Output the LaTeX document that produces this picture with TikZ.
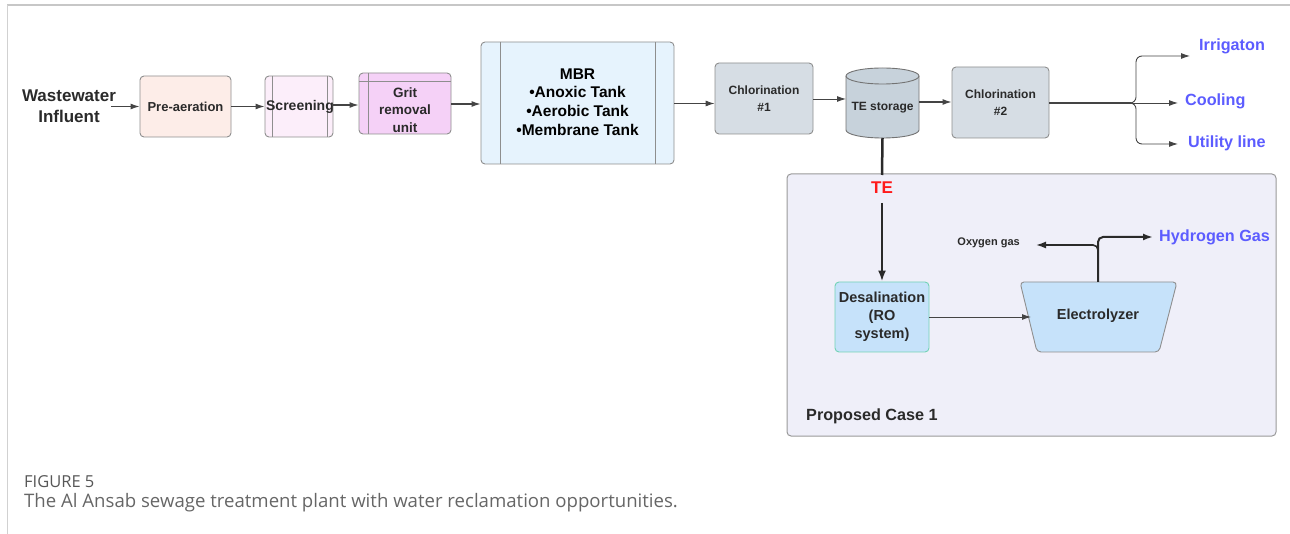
\documentclass[tikz,border=0pt]{standalone}
\usepackage{fontspec}
\setmainfont{Liberation Sans}
\newfontfamily\capfont{Open Sans}
\usetikzlibrary{arrows.meta}
\definecolor{preF}{HTML}{FDEDE8}
\definecolor{scrF}{HTML}{FCEEFA}
\definecolor{gritF}{HTML}{F5D1F7}
\definecolor{mbrF}{HTML}{E6F3FD}
\definecolor{chlF}{HTML}{D6DDE4}
\definecolor{teF}{HTML}{C7D2DB}
\definecolor{propF}{HTML}{EFEFF9}
\definecolor{desF}{HTML}{C6E2FA}
\definecolor{desB}{HTML}{72D3B5}
\definecolor{bordC}{HTML}{8E8E8E}
\definecolor{lineC}{HTML}{444444}
\definecolor{blueL}{HTML}{5C5CFF}
\definecolor{redL}{HTML}{FF1A1A}
\definecolor{capC}{HTML}{666666}
\definecolor{txtC}{HTML}{2A2A2A}
\tikzset{
  box/.style={draw=bordC, line width=0.9pt, rounded corners=4pt, align=center, text=txtC, font=\bfseries\fontsize{13}{16.5}\selectfont, inner sep=0pt},
  flow/.style={draw=lineC, line width=1.1pt, -{Latex[length=9pt,width=6pt]}},
  thinflow/.style={draw=lineC, line width=0.9pt, -{Latex[length=9pt,width=6pt]}},
  outlet/.style={draw=txtC, line width=2pt, rounded corners=5pt},
  bluelab/.style={text=blueL, font=\bfseries\fontsize{16.2}{19}\selectfont, anchor=west, inner sep=0pt},
  inner/.style={draw=bordC, line width=0.9pt}
}
\begin{document}
\begin{tikzpicture}[x=1pt,y=-1pt]
\useasboundingbox (0,0) rectangle (1290,534);
% frame
\draw[draw=black!22, line width=1.5pt] (7,5) -- (1290,5);
\draw[draw=black!18, line width=1pt] (7,5) -- (7,534);

% proposed case box
\draw[draw=black!40, fill=propF, line width=1pt, rounded corners=4pt] (787,174) rectangle (1276,436);
\node[anchor=west, text=txtC, font=\bfseries\fontsize{16.2}{19}\selectfont, inner sep=0pt] (pc) at (806,416) {Proposed Case 1};

% influent
\node[align=center, text=txtC, font=\bfseries\fontsize{17}{21}\selectfont, inner sep=0pt] (inf) at (69,106.5) {Wastewater\\Influent};

\node[box, fill=preF, minimum width=91pt, minimum height=61pt] (pre) at (185.5,106.5) {Pre-aeration};
\node[box, fill=scrF, minimum width=68pt, minimum height=61pt] (scr) at (299,106.5) {};
\draw[inner] (272,76) -- (272,137);
\draw[inner] (327,76) -- (327,137);
\node[text=txtC, font=\bfseries\fontsize{14}{16}\selectfont, inner sep=0pt] (scrt) at (300,106.5) {Screening};

\node[box, fill=gritF, minimum width=92pt, minimum height=61pt] (grit) at (405,103.5) {};
\draw[inner] (359,81) -- (451,81);
\draw[inner] (368,73) -- (368,134);
\node[align=center, text=txtC, font=\bfseries\fontsize{13.5}{17.5}\selectfont, inner sep=0pt] (gritt) at (405,110) {Grit\\removal\\unit};

\node[box, fill=mbrF, minimum width=193pt, minimum height=122pt] (mbr) at (577.5,103) {};
\draw[inner] (500,42) -- (500,164);
\draw[inner] (655,42) -- (655,164);
\node[align=center, text=black, font=\bfseries\fontsize{15.5}{18.7}\selectfont, inner sep=0pt] (mbrt) at (577.5,102) {MBR\\•Anoxic Tank\\•Aerobic Tank\\•Membrane Tank};

\node[box, fill=chlF, minimum width=98pt, minimum height=71pt, font=\bfseries\fontsize{12}{17}\selectfont] (c1) at (764,98.5) {Chlorination\\\#1};

% TE storage cylinder
\draw[draw=black!55, fill=teF, line width=0.9pt] (846,76) -- (846,130) arc[start angle=180, end angle=360, x radius=36.5pt, y radius=8pt] -- (919,76) arc[start angle=0, end angle=180, x radius=36.5pt, y radius=8pt] -- cycle;
\draw[draw=black!55, line width=0.9pt] (846,76) arc[start angle=180, end angle=360, x radius=36.5pt, y radius=8pt];
\node[minimum width=73pt, minimum height=70pt, inner sep=0pt, text=txtC, font=\bfseries\fontsize{12}{14}\selectfont] (te) at (882.5,108) {TE storage};
\coordinate (teb) at (882.5,138);

\node[box, fill=chlF, minimum width=97pt, minimum height=71pt, font=\bfseries\fontsize{12}{17}\selectfont] (c2) at (1000.5,102.5) {Chlorination\\\#2};

% main line arrows
\draw[flow] (inf.east |- pre.west) ++(-5,0) coordinate (infout) -- (pre.west);
\draw[flow] (pre.east) -- (scr.west);
\draw[flow] (scr.east |- 0,105) -- (grit.west |- 0,105);
\draw[flow] (grit.east |- 0,104) -- (mbr.west |- 0,104);
\draw[thinflow] (mbr.east |- 0,103.5) -- (c1.west |- 0,103.5);
\draw[thinflow] (c1.east |- 0,99) -- (846,99);
\draw[flow] (919,102) -- (c2.west |- 0,102);

% distribution brace
\coordinate (jn) at (1131,103);
\draw[draw=lineC, line width=1.3pt] (c2.east |- 0,103) -- (jn);
\node[bluelab] (irr) at (1199,46) {Irrigaton};
\node[bluelab] (cool) at (1185,101) {Cooling};
\node[bluelab] (util) at (1188,143) {Utility line};
\draw[thinflow, rounded corners=6pt] (jn) -| (1136,56) -- (1190,56);
\draw[thinflow] (jn) -- (1178,103);
\draw[thinflow, rounded corners=6pt] (jn) -| (1136,144) -- (1178,144);

% TE line
\node[text=redL, font=\bfseries\fontsize{17}{20}\selectfont, inner sep=0pt] (tel) at (882,188) {TE};
\draw[draw=txtC, line width=2.5pt] (teb) -- (882,175);
\node[box, fill=desF, draw=desB, minimum width=94pt, minimum height=70pt, font=\bfseries\fontsize{14.5}{18}\selectfont] (des) at (882,317) {Desalination\\(RO\\system)};
\draw[draw=txtC, line width=2.5pt, -{Latex[length=11pt,width=8pt]}] (882,203) -- (des.north);

% electrolyzer
\draw[draw=bordC, fill=desF, line width=0.9pt, rounded corners=4pt] (1020,282) -- (1177,282) -- (1159,352) -- (1037,352) -- cycle;
\node[text=txtC, font=\bfseries\fontsize{14.5}{17}\selectfont, inner sep=0pt] (el) at (1098,316) {Electrolyzer};
\coordinate (elin) at (1031,317);
\coordinate (eltop) at (1098,282);
\draw[thinflow] (des.east |- elin) -- (elin);

\node[anchor=east, text=txtC, font=\bfseries\fontsize{11}{13}\selectfont, inner sep=0pt] (o2) at (1020,243) {Oxygen gas};
\node[bluelab] (h2) at (1159,237) {Hydrogen Gas};
\draw[outlet, -{Latex[length=10pt,width=7pt]}] (eltop) |- (1153,237);
\draw[draw=txtC, line width=1.6pt, rounded corners=5pt, -{Latex[length=10pt,width=7pt]}] (1098,258) |- (1036,245);

% caption
\node[anchor=west, text=capC!85!black, font=\capfont\fontsize{16.5}{18}\selectfont, inner sep=0pt] (fig) at (24,482) {FIGURE 5};
\node[anchor=west, text=capC, font=\capfont\fontsize{18.6}{20}\selectfont, inner sep=0pt] (cap) at (24,503) {The Al Ansab sewage treatment plant with water reclamation opportunities.};
\end{tikzpicture}
\end{document}
